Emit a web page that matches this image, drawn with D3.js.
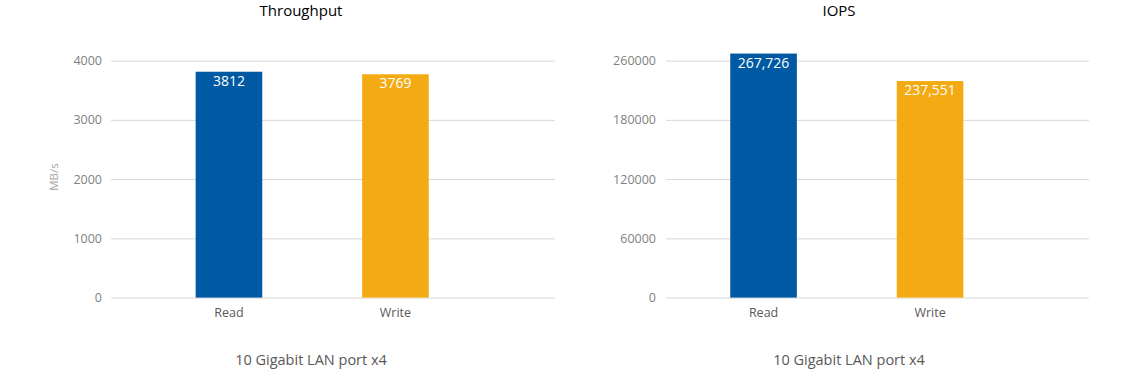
<!DOCTYPE html>
<html>
<head>
<meta charset="utf-8">
<script src="https://cdn.jsdelivr.net/npm/d3@7"></script>
<style>
  body { margin: 0; background: #fff; }
  svg { display: block; font-family: "Open Sans", sans-serif; }
</style>
</head>
<body>
<div id="chart-container"></div>
<script>
// two bar charts side by side: throughput and IOPS

const categories = ["Read", "Write"];
const throughputValues = [3812, 3769];
const iopsValues = [267726, 237551];
const throughputTicks = [0, 1000, 2000, 3000, 4000];
const iopsTicks = [0, 65000, 130000, 195000, 260000];
const iopsTickLabels = ["0", "60000", "120000", "180000", "260000"];
const titles = ["Throughput", "IOPS"];
const subtitle = "10 Gigabit LAN port x4";
const barColors = ["#0059a3", "#f4aa12"];

const width = 1140, height = 369;
const font = '"Open Sans", sans-serif';

const svg = d3.select('#chart-container')
    .append('svg')
    .attr('width', width)
    .attr('height', height);

function drawChart(cfg) {
    let g = svg.append('g');

    let y = d3.scaleLinear()
        .domain([0, cfg.max])
        .range([297.6, 60.6]);

    let x = d3.scaleBand()
        .domain(categories)
        .range(cfg.band)
        .paddingInner(0.6)
        .paddingOuter(0.3);

    // gridlines + tick labels
    g.append('g')
        .attr('transform', `translate(${cfg.left},0)`)
        .call(d3.axisLeft(y)
            .tickValues(cfg.ticks)
            .tickFormat((d, i) => cfg.tickLabels ? cfg.tickLabels[i] : d)
            .tickSize(-(cfg.right - cfg.left))
            .tickPadding(cfg.pad))
        .attr('font-family', font)
        .call(g => g.select('.domain').remove())
        .call(g => g.selectAll('.tick line').attr('stroke', '#d9d9d9'))
        .call(g => g.selectAll('.tick text')
            .attr('fill', '#7f7f7f')
            .attr('font-size', '12.5px'));

    g.append('g')
        .selectAll('rect')
        .data(cfg.values)
        .join('rect')
        .attr('x', (d, i) => x(categories[i]))
        .attr('width', x.bandwidth())
        .attr('y', d => y(d))
        .attr('height', d => y(0) - y(d))
        .attr('fill', (d, i) => barColors[i]);

    g.append('g')
        .selectAll('text')
        .data(cfg.values)
        .join('text')
        .attr('x', (d, i) => x(categories[i]) + x.bandwidth() / 2)
        .attr('y', d => y(d) + 14)
        .attr('text-anchor', 'middle')
        .attr('fill', '#fff')
        .attr('font-size', '14px')
        .text(d => cfg.fmt(d));

    // category labels
    g.append('g')
        .attr('transform', `translate(0,${y(0)})`)
        .call(d3.axisBottom(x).tickSize(0).tickPadding(10.5))
        .attr('font-family', font)
        .call(g => g.select('.domain').remove())
        .call(g => g.selectAll('.tick text')
            .attr('fill', '#595959')
            .attr('font-size', '12.5px'));

    g.append('text')
        .attr('x', cfg.titleX)
        .attr('y', 16)
        .attr('text-anchor', 'middle')
        .attr('fill', '#000')
        .attr('font-size', '15px')
        .text(cfg.title);

    g.append('text')
        .attr('x', cfg.titleX + 10)
        .attr('y', 365)
        .attr('text-anchor', 'middle')
        .attr('fill', '#595959')
        .attr('font-size', '14.5px')
        .text(subtitle);

    if (cfg.yLabel) {
        g.append('text')
            .attr('transform', `translate(58,177) rotate(-90)`)
            .attr('text-anchor', 'middle')
            .attr('fill', '#a6a6a6')
            .attr('font-size', '11.5px')
            .text(cfg.yLabel);
    }
}

drawChart({
    title: titles[0], titleX: 301, yLabel: 'MB/s',
    values: throughputValues, max: 4000, ticks: throughputTicks,
    left: 111, right: 555, pad: 9, band: [145.7, 478.7],
    fmt: d => d
});

drawChart({
    title: titles[1], titleX: 839, yLabel: null,
    values: iopsValues, max: 260000, ticks: iopsTicks, tickLabels: iopsTickLabels,
    left: 666, right: 1089, pad: 10, band: [680.3, 1013.3],
    fmt: d3.format(',')
});
</script>
</body>
</html>
